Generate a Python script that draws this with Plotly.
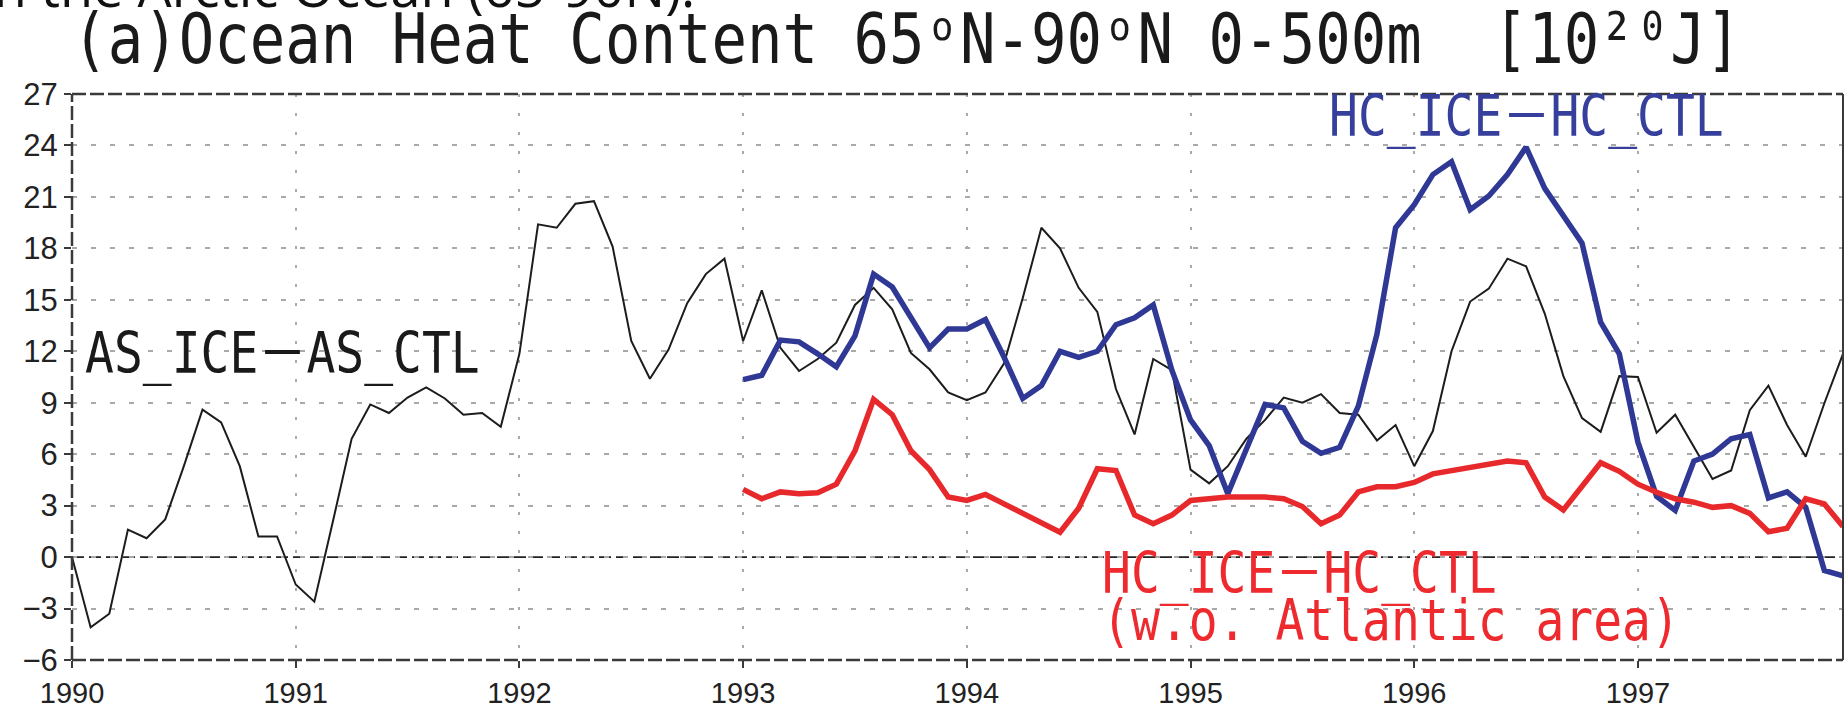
import plotly.graph_objects as go

# Monthly anomalies, Jan 1990 - Dec 1997  [10^20 J]
as_ice_minus_ctl = [
    0.0, -4.1, -3.3, 1.6, 1.1, 2.2, 5.3, 8.6, 7.85, 5.3, 1.2, 1.2,
    -1.6, -2.6, 2.1, 6.9, 8.9, 8.4, 9.3, 9.9, 9.25, 8.3, 8.4, 7.6,
    11.85, 19.4, 19.2, 20.6, 20.75, 18.1, 12.6, 10.4, 12.1, 14.8, 16.5, 17.4,
    12.6, 15.55, 12.2, 10.85, 11.55, 12.5, 14.7, 15.7, 14.45, 11.9, 10.95, 9.6,
    9.15, 9.6, 11.3, 15.1, 19.2, 18.0, 15.7, 14.3, 9.8, 7.15, 11.55, 10.9,
    5.1, 4.3, 5.3, 6.9, 8.0, 9.3, 9.0, 9.5, 8.4, 8.3, 6.8, 7.7,
    5.3, 7.35, 12.0, 14.9, 15.65, 17.4, 16.95, 14.2, 10.55, 8.1, 7.3, 10.55,
    10.5, 7.25, 8.3, 6.45, 4.56, 5.05, 8.57, 10.0, 7.7, 5.85, 8.97, 11.85,
]

# Monthly anomalies, Jan 1993 - Dec 1997  [10^20 J]
hc_ice_minus_ctl = [
    10.35, 10.6, 12.65, 12.55, 11.85, 11.1, 12.9, 16.5, 15.75, 13.95, 12.2, 13.3,
    13.3, 13.85, 11.65, 9.25, 10.0, 12.0, 11.65, 12.0, 13.55, 13.95, 14.7, 10.9,
    8.0, 6.5, 3.7, 6.3, 8.9, 8.7, 6.75, 6.05, 6.4, 8.8, 13.0, 19.2,
    20.55, 22.3, 23.05, 20.25, 21.05, 22.3, 23.9, 21.5, 19.9, 18.3, 13.7, 11.85,
    6.7, 3.55, 2.72, 5.6, 6.0, 6.9, 7.15, 3.45, 3.8, 2.9, -0.78, -1.1,
]

hc_ice_minus_ctl_wo_atlantic = [
    3.95, 3.4, 3.8, 3.7, 3.75, 4.25, 6.2, 9.2, 8.3, 6.2, 5.1, 3.5,
    3.3, 3.65, 3.1, 2.55, 1.95, 1.45, 2.85, 5.15, 5.05, 2.45, 1.95, 2.45,
    3.3, 3.4, 3.5, 3.5, 3.5, 3.4, 2.95, 1.95, 2.45, 3.8, 4.1, 4.1,
    4.35, 4.85, 5.05, 5.2, 5.4, 5.6, 5.5, 3.5, 2.75, 4.15, 5.5, 5.0,
    4.25, 3.78, 3.4, 3.2, 2.9, 3.0, 2.55, 1.48, 1.68, 3.4, 3.1, 1.78,
]

year_ticks = [1990, 1991, 1992, 1993, 1994, 1995, 1996, 1997]
value_ticks = [-6, -3, 0, 3, 6, 9, 12, 15, 18, 21, 24, 27]

# decimal-year time coordinate for each monthly value
t_as = [1990 + m / 12 for m in range(len(as_ice_minus_ctl))]
t_hc = [1993 + m / 12 for m in range(len(hc_ice_minus_ctl))]

BLACK = "#1c1c1c"
BLUE = "#2f3894"
RED = "#e8292c"
FRAME = "#3a3a3a"
MONO = "DejaVu Sans Mono, Noto Sans CJK JP, monospace"

fig = go.Figure()
fig.add_trace(go.Scatter(x=t_as, y=as_ice_minus_ctl, mode="lines",
                         line=dict(color=BLACK, width=2), showlegend=False))
fig.add_trace(go.Scatter(x=t_hc, y=hc_ice_minus_ctl, mode="lines",
                         line=dict(color=BLUE, width=5.5), showlegend=False))
fig.add_trace(go.Scatter(x=t_hc, y=hc_ice_minus_ctl_wo_atlantic, mode="lines",
                         line=dict(color=RED, width=5.5), showlegend=False))

W, H = 1845, 711
ML, MR, MT, MB = 72, 2, 94, 42
PW, PH = W - ML - MR, H - MT - MB


def px(xp):
    return (xp - ML) / PW


def py(yp):
    return (H - MB - yp) / PH


fig.update_layout(
    width=W, height=H,
    margin=dict(l=ML, r=MR, t=MT, b=MB, pad=0),
    paper_bgcolor="white", plot_bgcolor="white",
    xaxis=dict(
        range=[1990, 1997 + 11 / 12], tickvals=year_ticks,
        ticktext=[str(y) for y in year_ticks],
        ticks="outside", ticklen=7, tickwidth=2, tickcolor=FRAME,
        showgrid=True, gridcolor="#a9a9a9", gridwidth=1.5, griddash="3px,16px",
        zeroline=False, showline=False,
        tickfont=dict(family="Liberation Sans, Arial", size=29, color="#222"),
    ),
    yaxis=dict(
        range=[-6, 27], tickvals=value_ticks,
        ticks="outside", ticklen=7, tickwidth=2, tickcolor=FRAME,
        showgrid=True, gridcolor="#a9a9a9", gridwidth=1.5, griddash="5px,14px",
        zeroline=False, showline=False,
        tickfont=dict(family="Liberation Sans, Arial", size=31, color="#222"),
    ),
    shapes=[
        # zero reference line
        dict(type="line", xref="paper", yref="y", x0=0, x1=1, y0=0, y1=0,
             line=dict(color="#222", width=1.6, dash="12px,5px"), layer="below"),
        # frame: dashed left, top, bottom; solid right
        dict(type="line", xref="paper", yref="paper", x0=0, x1=0, y0=0, y1=1,
             line=dict(color=FRAME, width=2.5, dash="14px,4px")),
        dict(type="line", xref="paper", yref="paper", x0=0, x1=1, y0=1, y1=1,
             line=dict(color=FRAME, width=2.5, dash="14px,4px")),
        dict(type="line", xref="paper", yref="paper", x0=0, x1=1, y0=0, y1=0,
             line=dict(color=FRAME, width=2.5, dash="14px,4px")),
        dict(type="line", xref="paper", yref="paper", x0=1, x1=1, y0=0, y1=1,
             line=dict(color=FRAME, width=2)),
    ],
    annotations=[
        dict(text="in the Arctic Ocean (65-90N).", xref="paper", yref="paper",
             x=px(697), y=py(-16), xanchor="right", yanchor="middle", showarrow=False,
             font=dict(family="Open Sans, Noto Sans", size=54, color="#111")),
        dict(text="(a)Ocean Heat Content 65\u1d52N-90\u1d52N 0-500m \u00a0[10\u00b2\u2070J]",
             xref="paper", yref="paper", x=px(70), y=py(38),
             xanchor="left", yanchor="middle", showarrow=False,
             font=dict(family=MONO, size=59, color="#1a1a1a")),
        dict(text="AS_ICE\uff0dAS_CTL", xref="paper", yref="paper",
             x=px(83), y=py(357), xanchor="left", yanchor="middle", showarrow=False,
             font=dict(family=MONO, size=48, color="#1a1a1a")),
        dict(text="HC_ICE\uff0dHC_CTL", xref="paper", yref="paper",
             x=px(1327), y=py(116), xanchor="left", yanchor="middle", showarrow=False,
             font=dict(family=MONO, size=48, color="#36409c")),
        dict(text="HC_ICE\uff0dHC_CTL", xref="paper", yref="paper",
             x=px(1100), y=py(581), xanchor="left", yanchor="middle", showarrow=False,
             font=dict(family=MONO, size=48, color="#ee2a2e")),
        dict(text="(w.o. Atlantic area)", xref="paper", yref="paper",
             x=px(1100), y=py(628), xanchor="left", yanchor="middle", showarrow=False,
             font=dict(family=MONO, size=48, color="#ee2a2e")),
    ],
)

# The monospace lettering is set in a tall, narrow face: stretch those
# annotation glyphs vertically about their own centres.
stretch_js = """
var gd = document.getElementById('{plot_id}');
function stretchMono() {
  gd.querySelectorAll('text.annotation-text').forEach(function (t) {
    if ((t.style.fontFamily || '').indexOf('DejaVu Sans Mono') === -1) return;
    t.style.transformBox = 'fill-box';
    t.style.transformOrigin = 'center';
    t.style.transform = 'scaleY(1.18)';
  });
}
stretchMono();
gd.on('plotly_afterplot', stretchMono);
"""

fig.write_html("out.html", post_script=stretch_js)
